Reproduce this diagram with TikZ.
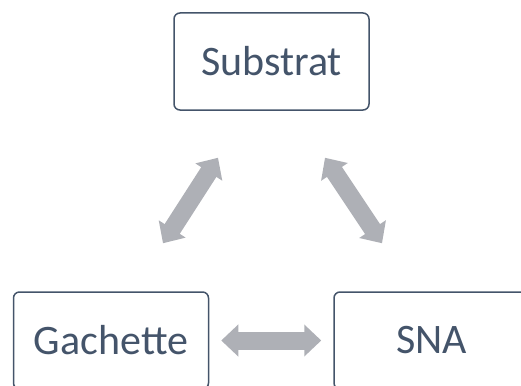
\documentclass[tikz,border=0pt]{standalone}
\usepackage{fontspec}
\setmainfont{Carlito}
\usetikzlibrary{arrows.meta,positioning}
\definecolor{slate}{HTML}{44546A}
\definecolor{arrowgray}{RGB}{174,176,182}
\tikzset{
  box/.style={draw=slate, line width=1.5pt, rounded corners=6pt, text=slate,
    minimum width=195pt, minimum height=97pt, inner sep=0pt,
    font=\fontsize{42}{50}\selectfont},
  dblarrow/.style={draw=arrowgray, line width=18pt,
    {Triangle[width=31pt,length=17pt]}-{Triangle[width=31pt,length=17pt]}}
}
\begin{document}
\begin{tikzpicture}[x=1pt,y=-1pt]
    \useasboundingbox (0,0) rectangle (521,385);
    \clip (0,0) rectangle (521,385);
    %Substrat
    \node[box] (sub) at (271.5,61.5) {Substrat};
    %Gachette
    \node[box] (gach) at (111,340.5) {Gachette};
    %SNA
    \node[box] (sna) at (431.5,340.5) {SNA};
    %arrow ends
    \coordinate (subleft) at ([shift={(-53.5,47)}]sub.south);
    \coordinate (subright) at ([shift={(53.5,47)}]sub.south);
    \coordinate (gachtop) at ([shift={(52,-48)}]gach.north);
    \coordinate (snatop) at ([shift={(-49.5,-48)}]sna.north);
    %links
    \draw[dblarrow] (gachtop) -- (subleft);
    \draw[dblarrow] (subright) -- (snatop);
    \draw[dblarrow, shorten <=12pt, shorten >=12pt] (gach) -- (sna);
\end{tikzpicture}
\end{document}
